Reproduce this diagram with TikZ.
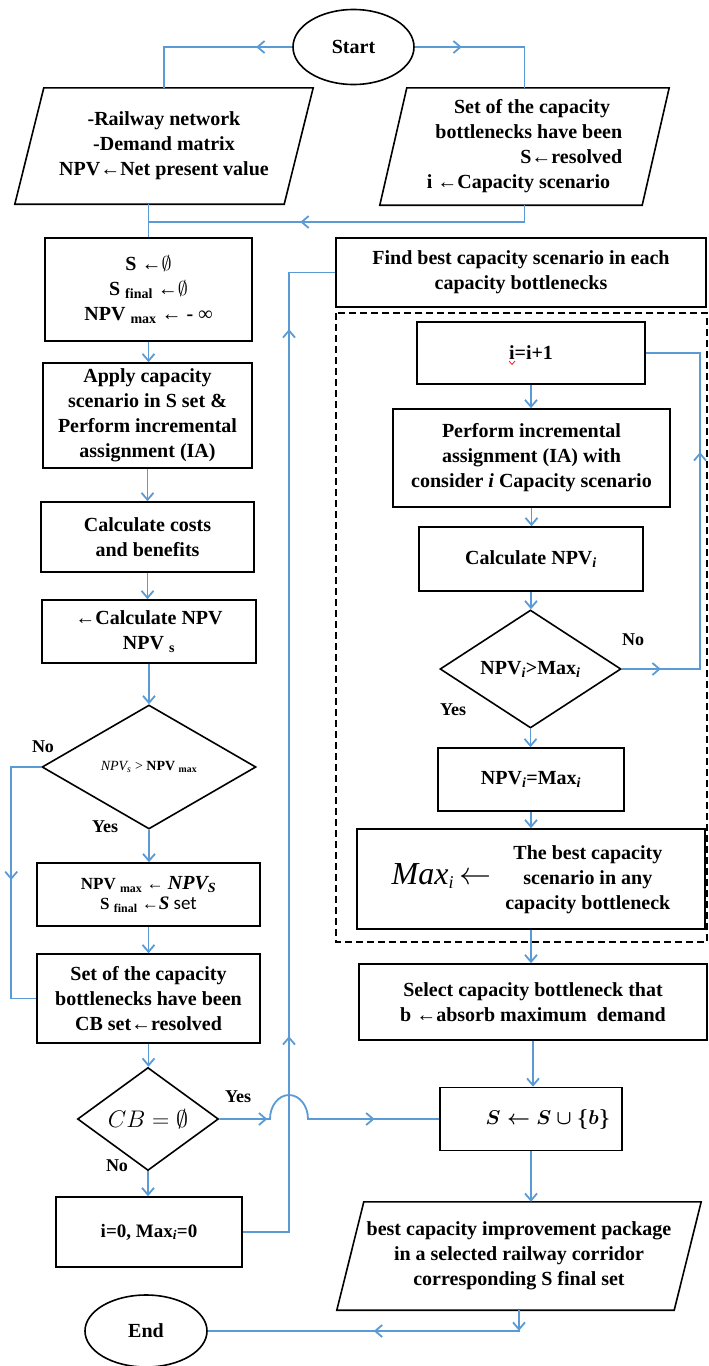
\RequirePackage{fix-cm}
\documentclass[tikz,border=0pt]{standalone}
\usepackage{fontspec}
\setmainfont{Liberation Serif}
\newfontfamily\calib{Carlito}
\usetikzlibrary{shapes.geometric,arrows.meta,decorations.markings}
\definecolor{lblue}{RGB}{91,155,213}
\begin{document}
\begin{tikzpicture}[x=1pt,y=-1pt,
  txt/.style={font=\fontsize{20}{25}\selectfont\bfseries},
  box/.style={draw, line width=1.6pt, rectangle, inner sep=0pt, align=center, txt},
  plain/.style={rectangle, inner sep=0pt, align=center, txt},
  ell/.style={draw, ellipse, line width=1.6pt, inner sep=0pt, txt},
  dia/.style={draw, diamond, line width=1.6pt, inner sep=0pt, align=center, txt},
  sz/.style 2 args={minimum width=#1, minimum height=#2},
  lab/.style={inner sep=0pt, font=\fontsize{18}{18}\selectfont\bfseries},
  ln/.style={lblue, line width=1.8pt},
  arr/.style={ln, -{Straight Barb[length=7pt,width=12pt]}},
  marr/.style={postaction={decorate,decoration={markings,mark=at position #1 with {\arrow[lblue,line width=1.8pt]{Straight Barb[length=7pt,width=12pt]}}}}},
  dbox/.style={draw, line width=1.4pt, dash pattern=on 7pt off 4pt}
]
\useasboundingbox (0,0) rectangle (709,1366);

% ---------- top ----------
\node[ell, sz={121}{75}] (start) at (353.5,47) {Start};
\node[plain, sz={269}{116}] (lp) at (164,146) {-Railway network\\-Demand matrix\\NPV←Net present value};
\draw[line width=1.6pt] ([xshift=14.5pt]lp.north west) -- ([xshift=14.5pt]lp.north east) -- ([xshift=-14.5pt]lp.south east) -- ([xshift=-14.5pt]lp.south west) -- cycle;
\node[plain, sz={262}{117}, align=right] (rp) at (524.5,146.5) {Set of the capacity\hspace*{12pt}\\bottlenecks have been\hspace*{12pt}\\S←resolved\hspace*{12pt}\\i ←Capacity scenario\hspace*{12pt}};
\draw[line width=1.6pt] ([xshift=13.5pt]rp.north west) -- ([xshift=13.5pt]rp.north east) -- ([xshift=-13.5pt]rp.south east) -- ([xshift=-13.5pt]rp.south west) -- cycle;

% ---------- left column ----------
\node[box, sz={207}{103}] (s0) at (148.5,289.5) {S ←$\emptyset$\\S \textsubscript{final} ←$\emptyset$\\NPV \textsubscript{max} ← - ∞};
\node[box, sz={209}{105}] (apply) at (147.5,415.5) {Apply capacity\\scenario in S set \&\\Perform incremental\\assignment (IA)};
\node[box, sz={213}{70}] (costs) at (147.5,537) {Calculate costs\\and benefits};
\node[box, sz={214}{63}] (cnpv) at (149,631.5) {←Calculate NPV\\NPV \textsubscript{s}};
\node[dia, sz={214}{124}] (d1) at (149,767) {{\fontsize{14}{16}\selectfont\mdseries\itshape NPV\textsubscript{s}\upshape\ > \bfseries NPV \textsubscript{max}}};
\node[box, sz={223}{63}, font=\fontsize{17}{20}\selectfont\bfseries] (npvmax) at (148.5,894.5) {NPV \textsubscript{max} ← {\fontsize{20}{20}\selectfont\itshape NPV\textsubscript{S}}\\S \textsubscript{final} ←{\fontsize{19}{20}\selectfont\itshape S} {\calib\mdseries\fontsize{19}{20}\selectfont set}};
\node[box, sz={223}{89}] (setcb) at (148.5,998.5) {Set of the capacity\\bottlenecks have been\\CB set←resolved};
\node[dia, sz={141}{103}] (cb) at (148,1119) {{\fontsize{24}{24}\selectfont\mdseries$CB=\emptyset$}};
\node[box, sz={186}{70}, font=\fontsize{19}{25}\selectfont\bfseries] (i0) at (149,1232) {i=0, Max\textsubscript{\textit{i}}=0};
\node[ell, sz={122}{72}] (end) at (146,1331) {End};

% ---------- right column ----------
\node[box, sz={370}{69}] (find) at (521,272.5) {Find best capacity scenario in each\\capacity bottlenecks};
\draw[dbox] (336,313) rectangle (707,942);
\node[box, sz={228}{62}] (ii) at (531,353) {i=i+1};
\draw[red, line width=0.7pt] (509,361) -- (512,364.5) -- (515,361);
\node[box, sz={277}{98}] (perf) at (531.5,458) {Perform incremental\\assignment (IA) with\\consider \textit{i} Capacity scenario};
\node[box, sz={224}{64}] (cnpvi) at (531,559) {Calculate NPV\textsubscript{\textit{i}}};
\node[dia, sz={181}{118}] (d2) at (530.5,669) {NPV\textsubscript{\textit{i}}>Max\textsubscript{\textit{i}}};
\node[box, sz={186}{63}] (eqmax) at (531,779.5) {NPV\textsubscript{\textit{i}}=Max\textsubscript{\textit{i}}};
\node[box, sz={348}{100}] (maxb) at (531,879) {{\fontsize{32}{32}\selectfont\mdseries\itshape Max\textsubscript{\fontsize{18}{18}\selectfont i}\,\upshape$\leftarrow$}\hspace{14pt}\begin{tabular}{@{}c@{}}The best capacity\\scenario in any\\capacity bottleneck\end{tabular}};
\node[box, sz={348}{76}] (sel) at (533,1002) {Select capacity bottleneck that\\b ←absorb maximum\ \ demand};
\node[box, sz={182}{63}] (sb) at (531,1119) {\hspace*{34pt}{\fontsize{20}{20}\selectfont\boldmath$S \leftarrow S\cup\{b\}$}};
\node[plain, sz={337}{108}] (op) at (519,1256) {best capacity improvement package\\in a selected railway corridor\\corresponding S final set};
\draw[line width=1.6pt] ([xshift=13.5pt]op.north west) -- ([xshift=13.5pt]op.north east) -- ([xshift=-13.5pt]op.south east) -- ([xshift=-13.5pt]op.south west) -- cycle;

% ---------- labels ----------
\node[lab] (l1) at (43,747) {No};
\node[lab] (l2) at (105,827) {Yes};
\node[lab] (l3) at (633,640) {No};
\node[lab] (l4) at (453,710) {Yes};
\node[lab] (l5) at (238,1097) {Yes};
\node[lab] (l6) at (117,1166) {No};

% ---------- connectors ----------
\draw[ln, marr=36pt] (start.west) -| (lp.north);
\draw[ln, marr=47pt] (start.east) -| (rp.north);
\draw[ln] (lp.south -| s0.north) -- (s0.north);
\coordinate (j1) at (148.5,222);
\draw[ln, marr=241pt] (rp.south) |- (j1);

\draw[arr] (s0.south) -- (s0.south |- apply.north);
\draw[arr] (apply.south) -- (apply.south |- costs.north);
\draw[arr] (costs.south) -- (costs.south |- cnpv.north);
\draw[arr] (cnpv.south) -- (cnpv.south |- d1.north);
\draw[arr] (d1.south) -- (d1.south |- npvmax.north);
\draw[arr] (npvmax.south) -- (npvmax.south |- setcb.north);
\draw[arr] (setcb.south) -- (setcb.south |- cb.north);
\draw[arr] (cb.south) -- (cb.south |- i0.north);
\draw[ln, marr=143pt] (d1.west) -- ++(-30,0) |- (setcb.west);

\coordinate (vx) at (289,272.5);
\draw[ln, marr=242pt, marr=949pt] (i0.east) -| (vx) -- (find.west);
\coordinate (hop) at (270,1119);
\draw[ln, marr=48pt, marr=185pt] (cb.east) -- (hop) arc[start angle=180, end angle=360, x radius=19, y radius=24] -- (sb.west);

\draw[arr] (ii.south) -- (ii.south |- perf.north);
\draw[arr] (perf.south) -- (perf.south |- cnpvi.north);
\draw[arr] (cnpvi.south) -- (cnpvi.south |- d2.north);
\draw[arr] (d2.south) -- (d2.south |- eqmax.north);
\draw[arr] (eqmax.south) -- (eqmax.south |- maxb.north);
\draw[arr] (maxb.south) -- (maxb.south |- sel.north);
\draw[arr] (sel.south) -- (sel.south |- sb.north);
\draw[arr] (sb.south) -- (sb.south |- op.north);
\coordinate (rx) at (700,353);
\draw[ln, marr=39pt, marr=295pt] (d2.east) -| (rx) -- (ii.east);
\coordinate (oc) at (519,1331);
\draw[ln, marr=20.5pt, marr=166pt] (op.south) -- (oc) -- (end.east);
\end{tikzpicture}
\end{document}
